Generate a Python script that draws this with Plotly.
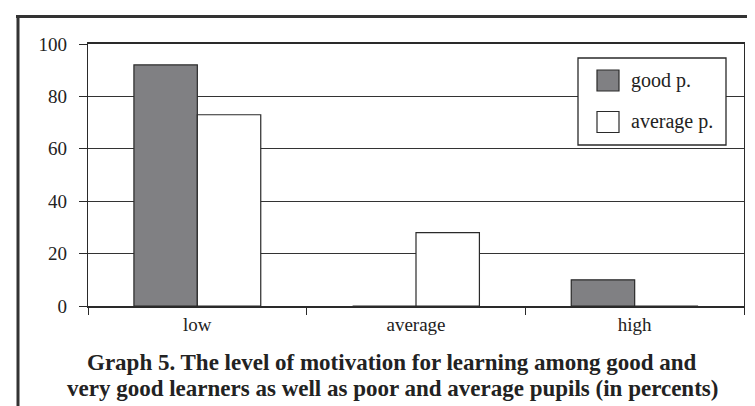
import plotly.graph_objects as go

categories = ["low", "average", "high"]
good_p = [92, 0, 10]
average_p = [73, 28, 0]
series_names = ["good p.", "average p."]
y_ticks = [0, 20, 40, 60, 80, 100]
title_lines = ["Graph 5. The level of motivation for learning among good and",
               "very good learners as well as poor and average pupils (in percents)"]

W, H = 755, 406
ML, MR, MT, MB = 80, 19, 36, 108
PW, PH = W - ML - MR, H - MT - MB

def px(x):
    return (x - ML) / PW

def py(y):
    return (H - MB - y) / PH

FONT = "Liberation Serif"
GRAY = "#808083"
EDGE = "#2a2a2a"
TXT = "#222"
colors = [GRAY, "white"]

fig = go.Figure()
for name, vals, col in zip(series_names, [good_p, average_p], colors):
    fig.add_trace(go.Bar(x=categories, y=vals, name=name,
                         marker=dict(color=col, line=dict(color=EDGE, width=1.2)),
                         showlegend=False))

fig.update_layout(
    width=W, height=H,
    margin=dict(l=ML, r=MR, t=MT, b=MB),
    paper_bgcolor="white", plot_bgcolor="white",
    barmode="group", bargap=0.42, bargroupgap=0,
    font=dict(family=FONT, size=19, color=TXT),
    xaxis=dict(showline=True, linecolor=EDGE, linewidth=1.5, mirror=True,
               ticks="outside", ticklen=7, tickcolor=EDGE, tickwidth=1,
               tickson="boundaries", showgrid=False, ticklabelstandoff=0,
               tickfont=dict(family=FONT, size=19, color=TXT)),
    yaxis=dict(range=[0, 100], tickvals=y_ticks, showline=True, linecolor=EDGE,
               linewidth=1.2, mirror=True, ticks="outside", ticklen=8,
               tickcolor=EDGE, showgrid=True, gridcolor="#333", gridwidth=1,
               zeroline=False, ticklabelstandoff=8,
               tickfont=dict(family=FONT, size=19, color=TXT)),
)

shapes = []
# outer frame (top and left)
shapes.append(dict(type="line", xref="paper", yref="paper", x0=px(8), x1=px(W), y0=py(8.5), y1=py(8.5),
                   line=dict(color="#333", width=3)))
shapes.append(dict(type="line", xref="paper", yref="paper", x0=px(10), x1=px(10), y0=py(7), y1=py(H),
                   line=dict(color="#333", width=3)))
# legend box
shapes.append(dict(type="rect", xref="paper", yref="paper", x0=px(570), x1=px(718), y0=py(137), y1=py(50),
                   fillcolor="white", line=dict(color=EDGE, width=1.3), layer="above"))
annotations = []
for i, (name, col) in enumerate(zip(series_names, colors)):
    top = 62 + i * 41.5
    shapes.append(dict(type="rect", xref="paper", yref="paper", x0=px(589), x1=px(611), y0=py(top + 21), y1=py(top),
                       fillcolor=col, line=dict(color=EDGE, width=1.2), layer="above"))
    annotations.append(dict(xref="paper", yref="paper", x=px(621), y=py(top + 10), text=name,
                            showarrow=False, xanchor="left", yanchor="middle",
                            font=dict(family=FONT, size=20, color=TXT)))

for j, line in enumerate(title_lines):
    annotations.append(dict(xref="paper", yref="paper", x=px(384), y=py(354 + j * 26.5),
                            xanchor="center", yanchor="middle",
                            text="<b>" + line + "</b>", showarrow=False,
                            font=dict(family=FONT, size=23, color=TXT)))

fig.update_layout(shapes=shapes, annotations=annotations)
fig.write_html("out.html")
